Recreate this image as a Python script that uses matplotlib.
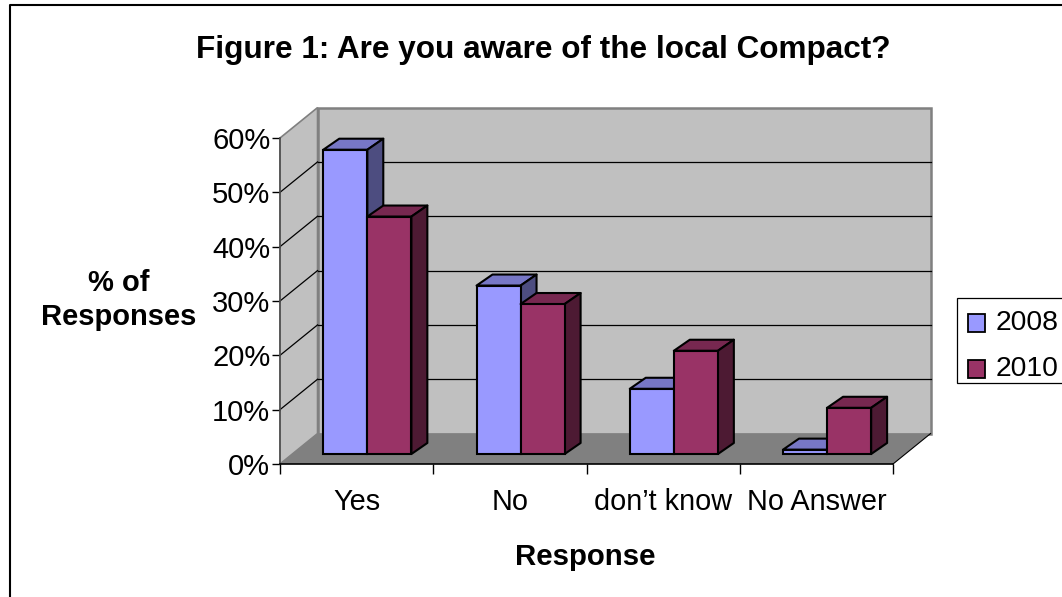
import matplotlib
matplotlib.use('Agg')
import matplotlib.pyplot as plt
from matplotlib.patches import Polygon, Rectangle
from matplotlib.lines import Line2D

plt.rcParams['font.family'] = ['Liberation Sans', 'DejaVu Sans']

categories = ['Yes', 'No', 'don\u2019t know', 'No Answer']
series_names = ['2008', '2010']
values_2008 = [56, 31, 12, 0.8]
values_2010 = [43.7, 27.6, 19, 8.5]
y_ticks = [0, 10, 20, 30, 40, 50, 60]

W = 1062
H = 597
fig = plt.figure(figsize=(W/100, H/100), dpi=100, facecolor='white')
ax = fig.add_axes([280/W, (H-464)/H, 613/W, 326/H])
ax.set_xlim(0, 4)
ax.set_ylim(0, 60)
ax.patch.set_visible(False)

# oblique depth of the box and of the bars, in data units
wall_dx = 0.245
wall_dy = 5.6
bar_off_x = 0.07
bar_off_y = 1.84
bar_dx = 0.104
bar_dy = 2.03
bar_w = 0.2875

# walls and floor
ax.add_patch(Polygon([(0, 0), (wall_dx, wall_dy), (wall_dx, 60+wall_dy), (0, 60)],
                     fc='#C0C0C0', ec='#808080', lw=1.2, zorder=1, clip_on=False))
ax.add_patch(Polygon([(wall_dx, wall_dy), (4+wall_dx, wall_dy), (4+wall_dx, 60+wall_dy), (wall_dx, 60+wall_dy)],
                     fc='#C0C0C0', ec='#808080', lw=1.8, zorder=1, clip_on=False))
ax.add_patch(Polygon([(0, 0), (wall_dx, wall_dy), (4+wall_dx, wall_dy), (4, 0)],
                     fc='#808080', ec='none', zorder=1.5, clip_on=False))
ax.plot([4, 4+wall_dx], [0, wall_dy], color='black', lw=0.8, zorder=1.6, clip_on=False)

# gridlines on back wall and side wall
for v in y_ticks[1:-1]:
    ax.plot([wall_dx, 4+wall_dx], [v+wall_dy, v+wall_dy], color='black', lw=0.9, zorder=2, clip_on=False)
    ax.plot([0, wall_dx], [v, v+wall_dy], color='black', lw=0.9, zorder=2, clip_on=False)


def draw_bar(x, val, front, top, side, z):
    # front face through the axes, then the two visible oblique faces
    ax.bar(x, val, bar_w, bottom=bar_off_y, align='edge', color=front, edgecolor='black',
           linewidth=1.5, zorder=z+0.2, clip_on=False)
    y1 = val+bar_off_y
    ax.add_patch(Polygon([(x, y1), (x+bar_dx, y1+bar_dy), (x+bar_w+bar_dx, y1+bar_dy), (x+bar_w, y1)],
                         fc=top, ec='black', lw=1.5, joinstyle='round', zorder=z, clip_on=False))
    ax.add_patch(Polygon([(x+bar_w, bar_off_y), (x+bar_w+bar_dx, bar_off_y+bar_dy),
                          (x+bar_w+bar_dx, y1+bar_dy), (x+bar_w, y1)],
                         fc=side, ec='black', lw=1.5, joinstyle='round', zorder=z, clip_on=False))


for i in range(len(categories)):
    left = i+0.5-bar_w+bar_off_x
    draw_bar(left, values_2008[i], '#9999FF', '#7777C6', '#4D4D80', 3)
    draw_bar(left+bar_w, values_2010[i], '#993366', '#772850', '#4D1A33', 4)

# axes
ax.spines['top'].set_visible(False)
ax.spines['right'].set_visible(False)
ax.spines['left'].set_color('#505050')
ax.spines['left'].set_linewidth(1.2)
ax.spines['bottom'].set_color('black')
ax.spines['bottom'].set_linewidth(1.2)
ax.spines['left'].set_zorder(2.5)
ax.set_yticks(y_ticks)
ax.set_yticklabels([str(v)+'%' for v in y_ticks], fontsize=21)
ax.set_xticks(range(5))
ax.set_xticklabels([])
ax.set_xticks([i+0.5 for i in range(4)], minor=True)
ax.set_xticklabels(categories, minor=True, fontsize=20.8)
ax.tick_params(axis='y', length=6, width=1, color='black', pad=1)
ax.tick_params(axis='x', which='major', length=7, width=1, color='black')
ax.tick_params(axis='x', which='minor', length=0, pad=17)

fig.text(543.5/W, 1-50/H, 'Figure 1: Are you aware of the local Compact?', fontsize=22.7,
         fontweight='bold', ha='center', va='center')
fig.text(118.5/W, 1-300/H, '% of\nResponses', fontsize=21, fontweight='bold', ha='center',
         va='center', linespacing=1.25)
fig.text(585/W, 1-557/H, 'Response', fontsize=21.2, fontweight='bold', ha='center', va='center')

# chart area border, cut off by the picture on right and bottom
fig.add_artist(Line2D([9.5/W, 9.5/W, 1], [0, 1-4.5/H, 1-4.5/H], color='black', lw=1.5))

# legend box runs past the right edge
fig.add_artist(Rectangle((957/W, 1-383/H), 120/W, 85/H, transform=fig.transFigure,
                         fc='white', ec='black', lw=0.9))
legend_colors = ['#9999FF', '#993366']
legend_y = [323, 368.5]
for name, c, ly in zip(series_names, legend_colors, legend_y):
    fig.add_artist(Rectangle((967.5/W, 1-(ly+9)/H), 17/W, 18/H, transform=fig.transFigure,
                             fc=c, ec='black', lw=1.3))
    fig.text(996/W, 1-ly/H, name, fontsize=20.4, ha='left', va='center')

fig.savefig('out.png', dpi=100)
